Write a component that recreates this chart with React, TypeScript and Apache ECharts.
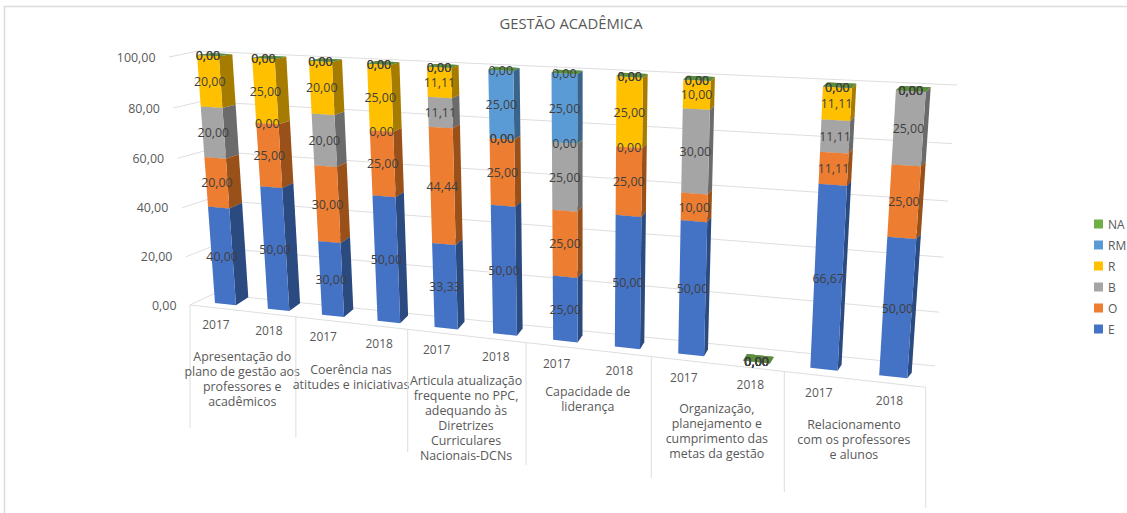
import React, { useEffect, useRef } from "react";
import * as echarts from "echarts";

const groupLabels = [
  "Apresentação do\nplano de gestão aos\nprofessores e\nacadêmicos",
  "Coerência nas\natitudes e iniciativas",
  "Articula atualização\nfrequente no PPC,\nadequando às\nDiretrizes\nCurriculares\nNacionais-DCNs",
  "Capacidade de\nliderança",
  "Organização,\nplanejamento e\ncumprimento das\nmetas da gestão",
  "Relacionamento\ncom os professores\ne alunos",
];
const years = ["2017", "2018"];
const yTicks = [0, 20, 40, 60, 80, 100];
const legendOrder = ["NA", "RM", "R", "B", "O", "E"];

const E = [40, 50, 30, 50, 33.33, 50, 25, 50, 50, 0, 66.67, 50];
const O = [20, 25, 30, 25, 44.44, 25, 25, 25, 10, 0, 11.11, 25];
const B = [20, 0, 20, 0, 11.11, 0, 25, 0, 30, 0, 11.11, 25];
const R = [20, 25, 20, 25, 11.11, 0, 0, 25, 10, 0, 11.11, 0];
const RM = [0, 0, 0, 0, 0, 25, 25, 0, 0, 0, 0, 0];
const NA = [0, 0, 0, 0, 0, 0, 0, 0, 0, 0, 0, 0];

const seriesDefs = [
  { name: "E", values: E, front: "#4472C4", side: "#2A4A80", top: "#4472C4" },
  { name: "O", values: O, front: "#ED7D31", side: "#9A5119", top: "#ED7D31" },
  { name: "B", values: B, front: "#A5A5A5", side: "#6B6B6B", top: "#A5A5A5" },
  { name: "R", values: R, front: "#FFC000", side: "#A67C00", top: "#FFC000" },
  { name: "RM", values: RM, front: "#5B9BD5", side: "#3A648C", top: "#5B9BD5" },
  { name: "NA", values: NA, front: "#70AD47", side: "#48702E", top: "#5B8E3A" },
];

const FONT = '"Open Sans", sans-serif';
const W = 1127;
const H = 513;

type P = [number, number];
function quadMap(p0: P, p1: P, p2: P, p3: P) {
  const [x0, y0] = p0, [x1, y1] = p1, [x2, y2] = p2, [x3, y3] = p3;
  const sx = x0 - x1 + x2 - x3, sy = y0 - y1 + y2 - y3;
  const dx1 = x1 - x2, dx2 = x3 - x2, dy1 = y1 - y2, dy2 = y3 - y2;
  const den = dx1 * dy2 - dx2 * dy1;
  const g = (sx * dy2 - dx2 * sy) / den, h = (dx1 * sy - sx * dy1) / den;
  const a = x1 - x0 + g * x1, b = x3 - x0 + h * x3;
  const d = y1 - y0 + g * y1, e = y3 - y0 + h * y3;
  return (s: number, t: number): P => {
    const w = g * s + h * t + 1;
    return [(a * s + b * t + x0) / w, (d * s + e * t + y0) / w];
  };
}

// perspective planes: (band position c in 0..12, axis fraction t in 0..1) -> page
const frontQ = quadMap([215, 303], [907.3, 378.3], [925.7, 91.7], [197, 55]);
const backQ = quadMap([248.3, 297.3], [911.7, 372.7], [930.7, 87.3], [232.3, 54.3]);
const wallQ = quadMap([213.3, 294], [935, 366], [957, 85], [198.3, 51]);
const front = (c: number, t: number) => frontQ((c - 0.3) / 11.4, t);
const back = (c: number, t: number) => backQ((c - 0.7) / 11, t);
const wall = (c: number, t: number) => wallQ(c / 12, t);
const sideFront = (t: number): P => {
  const h = -0.035;
  const f = (t * (1 + h)) / (1 + h * t);
  return [190 - 21 * f, 305 - 248 * f];
};
const edge = (c: number): P => {
  const b = -0.01328;
  const s = ((c / 12) * (1 + 12 * b)) / (1 + b * c);
  return [190 + s * 735.7, 305 + s * 82.3];
};
const dividerBottom = [428, 438, 452, 465, 478, 492, 508];
const groupOffset = [46, 46, 45, 42.5, 45, 45.5];

function planeOf(params: any, api: any, band: number, v: number) {
  const cs = params.coordSys;
  const pt = api.coord([band, v]);
  return { c: ((pt[0] - cs.x) / cs.width) * 12, t: (cs.y + cs.height - pt[1]) / cs.height };
}

function stackData(index: number) {
  return seriesDefs[index].values.map((v, i) => {
    let base = 0;
    for (let k = 0; k < index; k++) base += seriesDefs[k].values[i];
    return [i, base, base + v];
  });
}

const fmt = (v: number) => v.toFixed(2).replace(".", ",");
const LINE = "#DEDEDE";

function App() {
  const ref = useRef<HTMLDivElement>(null);
  useEffect(() => {
    const chart = echarts.init(ref.current!, undefined, { renderer: "svg" });

    const barSeries = seriesDefs.map((def, idx) => ({
      type: "custom",
      name: def.name,
      z: 3,
      itemStyle: { color: def.front },
      encode: { x: 0, y: [1, 2] },
      data: stackData(idx),
      renderItem: (params: any, api: any) => {
        const i = api.value(0);
        const lo = planeOf(params, api, i, api.value(1));
        const hi = planeOf(params, api, i, api.value(2));
        const half = 0.2;
        const L = lo.c - half, Rr = lo.c + half;
        const poly = (points: P[], fill: string) => ({
          type: "polygon",
          shape: { points },
          style: { fill },
        });
        return {
          type: "group",
          children: [
            poly([front(Rr, lo.t), back(Rr, lo.t), back(Rr, hi.t), front(Rr, hi.t)], def.side),
            poly([front(L, hi.t), front(Rr, hi.t), back(Rr, hi.t), back(L, hi.t)], def.top),
            poly([front(L, lo.t), front(Rr, lo.t), front(Rr, hi.t), front(L, hi.t)], def.front),
          ],
        };
      },
    }));

    const valueLabels = {
      type: "custom",
      name: "valueLabels",
      z: 6,
      silent: true,
      encode: { x: 0, y: 1 },
      data: seriesDefs.flatMap((_, idx) => stackData(idx)),
      renderItem: (params: any, api: any) => {
        const lo = api.value(1), hi = api.value(2);
        const p = planeOf(params, api, api.value(0), (lo + hi) / 2);
        const [x, y] = front(p.c, p.t);
        return {
          type: "text",
          style: { text: fmt(hi - lo), x, y, fill: "#404040", font: `12.4px ${FONT}`, align: "center", verticalAlign: "middle" },
        };
      },
    };

    const wallSeries = {
      type: "custom",
      name: "walls",
      z: 1,
      silent: true,
      encode: { y: 0 },
      data: yTicks.map((v) => [v]),
      renderItem: (params: any, api: any) => {
        const cs = params.coordSys;
        const v = api.value(0);
        const t = (cs.y + cs.height - api.coord([0, v])[1]) / cs.height;
        const a = sideFront(t);
        const c = wall(0, t), d = wall(12, t);
        const line = (p: P, q: P) => ({
          type: "line",
          shape: { x1: p[0], y1: p[1], x2: q[0], y2: q[1] },
          style: { stroke: LINE, lineWidth: 1 },
        });
        return {
          type: "group",
          children: [
            line(a, c),
            line(c, d),
            {
              type: "text",
              style: { text: fmt(v), x: a[0] - 13.5, y: a[1], fill: "#595959", font: `12.4px ${FONT}`, align: "right", verticalAlign: "middle" },
            },
          ],
        };
      },
    };

    const floorSeries = {
      type: "custom",
      name: "floor",
      z: 2,
      silent: true,
      encode: { x: 0 },
      data: groupLabels.flatMap((_, g) => [[2 * g, g, 0], [2 * g + 1, g, 1]]),
      renderItem: (params: any, api: any) => {
        const i = api.value(0), g = api.value(1), yr = api.value(2);
        const p = planeOf(params, api, i, 0);
        const [ex, ey] = edge(p.c);
        const children: any[] = [
          {
            type: "text",
            style: { text: years[yr], x: ex, y: ey + 17, fill: "#595959", font: `12px ${FONT}`, align: "center", verticalAlign: "middle" },
          },
        ];
        const rule = (c: number, k: number) => {
          const e = edge(c);
          return { type: "line", shape: { x1: e[0], y1: e[1], x2: e[0], y2: dividerBottom[k] }, style: { stroke: LINE, lineWidth: 1 } };
        };
        if (yr === 0) {
          children.push(rule(p.c - 0.5, g));
          const m = edge(p.c + 0.5);
          children.push({
            type: "text",
            style: { text: groupLabels[g], x: m[0], y: m[1] + groupOffset[g] - 7.5, fill: "#595959", font: `12.4px ${FONT}`, lineHeight: 15, align: "center", verticalAlign: "top" },
          });
        } else {
          if (g === groupLabels.length - 1) children.push(rule(p.c + 0.5, g + 1));
        }
        return { type: "group", children };
      },
    };

    const edgeSeries = {
      type: "custom",
      name: "edge",
      z: 2,
      silent: true,
      encode: { x: 0 },
      data: [[0]],
      renderItem: () => {
        const a = edge(0), b = edge(12);
        return { type: "line", shape: { x1: a[0], y1: a[1], x2: b[0], y2: b[1] }, style: { stroke: LINE, lineWidth: 1 } };
      },
    };

    chart.setOption({
      animation: false,
      backgroundColor: "#FFFFFF",
      title: {
        text: "GESTÃO ACADÊMICA",
        left: 571,
        top: 15,
        padding: 0,
        textAlign: "center",
        textStyle: { color: "#595959", fontSize: 14.8, fontWeight: "normal", fontFamily: FONT },
      },
      legend: {
        orient: "vertical",
        left: 1094,
        top: 218,
        padding: 0,
        data: legendOrder,
        icon: "rect",
        itemWidth: 9,
        itemHeight: 9,
        itemGap: 9,
        selectedMode: false,
        textStyle: { color: "#595959", fontSize: 12, fontFamily: FONT },
      },
      graphic: [
        {
          type: "polyline",
          silent: true,
          z: 0,
          shape: { points: [[4.5, 513], [4.5, 6.5], [1127, 6.5]] },
          style: { stroke: "#DCDCDC", lineWidth: 1.5, fill: "none" },
        },
      ],
      grid: { left: 0, right: 0, top: 0, bottom: 0 },
      xAxis: {
        type: "category",
        show: false,
        data: groupLabels.flatMap(() => years),
      },
      yAxis: { type: "value", show: false, min: 0, max: 100, interval: 20 },
      series: [wallSeries, edgeSeries, floorSeries, ...barSeries, valueLabels],
    });
    return () => chart.dispose();
  }, []);
  return <div ref={ref} style={{ position: "fixed", left: 0, top: 0, width: W, height: H }} />;
}

export default App;
